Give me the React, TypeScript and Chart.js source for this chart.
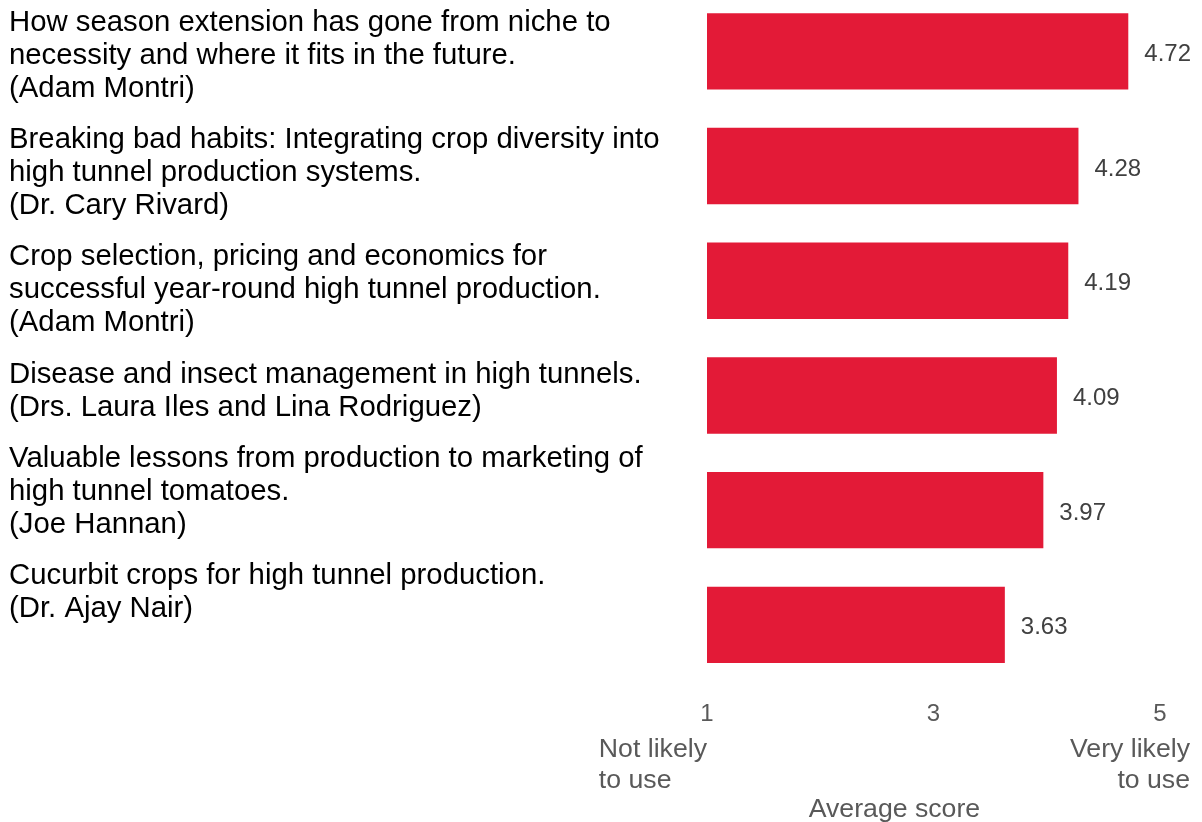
import React, { useEffect, useRef } from "react";
import { Chart, registerables } from "chart.js";

Chart.register(...registerables);

const categories: string[][] = [
  ["How season extension has gone from niche to", "necessity and where it fits in the future.", "(Adam Montri)"],
  ["Breaking bad habits: Integrating crop diversity into", "high tunnel production systems.", "(Dr. Cary Rivard)"],
  ["Crop selection, pricing and economics for", "successful year-round high tunnel production.", "(Adam Montri)"],
  ["Disease and insect management in high tunnels.", "(Drs. Laura Iles and Lina Rodriguez)"],
  ["Valuable lessons from production to marketing of", "high tunnel tomatoes.", "(Joe Hannan)"],
  ["Cucurbit crops for high tunnel production.", "(Dr. Ajay Nair)"],
];
const scores: number[] = [4.72, 4.28, 4.19, 4.09, 3.97, 3.63];
const xTicks: number[] = [1, 3, 5];
const lowLabel: string[] = ["Not likely", "to use"];
const highLabel: string[] = ["Very likely", "to use"];
const axisTitle = "Average score";

const FONT = "'Liberation Sans', Arial, sans-serif";
const BAR_COLOR = "#E31A37";

const annotPlugin = {
  id: "annot",
  afterDraw(chart: any) {
    const ctx = chart.ctx as CanvasRenderingContext2D;
    const area = chart.chartArea;
    const xs = chart.scales.x;
    ctx.save();
    // category labels (left column)
    ctx.font = `29.33px ${FONT}`;
    ctx.fillStyle = "#000000";
    ctx.textAlign = "left";
    ctx.textBaseline = "alphabetic";
    let y = area.top + 36.7;
    categories.forEach((lines) => {
      lines.forEach((l) => {
        ctx.fillText(l, 9, y);
        y += 33;
      });
      y += 18.3;
    });
    // value labels
    const meta = chart.getDatasetMeta(0);
    ctx.font = `24px ${FONT}`;
    ctx.fillStyle = "#404040";
    ctx.textBaseline = "middle";
    meta.data.forEach((bar: any, i: number) => {
      ctx.fillText(scores[i].toFixed(2), bar.x + 16, bar.y + 3);
    });
    // bottom axis annotations
    ctx.font = `26.67px ${FONT}`;
    ctx.fillStyle = "#595959";
    const x1 = xs.getPixelForValue(xTicks[0]);
    const x5 = xs.getPixelForValue(xTicks[xTicks.length - 1]);
    const w = Math.max(...lowLabel.map((s) => ctx.measureText(s).width));
    const left = x1 - w;
    const right = x5 + 30;
    ctx.textAlign = "left";
    lowLabel.forEach((s, i) => ctx.fillText(s, left, area.bottom + 67 + i * 31));
    ctx.textAlign = "right";
    highLabel.forEach((s, i) => ctx.fillText(s, right, area.bottom + 67 + i * 31));
    ctx.textAlign = "center";
    ctx.fillText(axisTitle, (left + right) / 2, area.bottom + 127);
    ctx.restore();
  },
};

export default function App() {
  const ref = useRef<HTMLCanvasElement | null>(null);
  useEffect(() => {
    if (!ref.current) return;
    const chart = new Chart(ref.current, {
      type: "bar",
      data: {
        labels: categories.map((c) => c.join(" ")),
        datasets: [
          {
            data: scores,
            backgroundColor: BAR_COLOR,
            borderWidth: 0,
            categoryPercentage: 1,
            barPercentage: 0.666,
          },
        ],
      },
      options: {
        indexAxis: "y",
        responsive: false,
        animation: false,
        devicePixelRatio: 1,
        layout: { padding: { left: 707, right: 42, top: 0, bottom: 75 } },
        plugins: { legend: { display: false }, tooltip: { enabled: false } },
        scales: {
          x: {
            type: "linear",
            min: xTicks[0],
            max: xTicks[xTicks.length - 1],
            afterBuildTicks: (scale: any) => {
              scale.ticks = xTicks.map((v) => ({ value: v }));
            },
            ticks: {
              color: "#595959",
              font: { size: 24, family: FONT },
              padding: 18,
              maxRotation: 0,
            },
            grid: { display: false, drawTicks: false },
            border: { display: false },
          },
          y: {
            display: false,
            offset: true,
            grid: { display: false },
          },
        },
      },
      plugins: [annotPlugin],
    } as any);
    return () => chart.destroy();
  }, []);
  return (
    <div style={{ position: "absolute", left: 0, top: -6, width: 1202, height: 828 }}>
      <canvas ref={ref} width={1202} height={828} style={{ display: "block", width: 1202, height: 828 }} />
    </div>
  );
}
